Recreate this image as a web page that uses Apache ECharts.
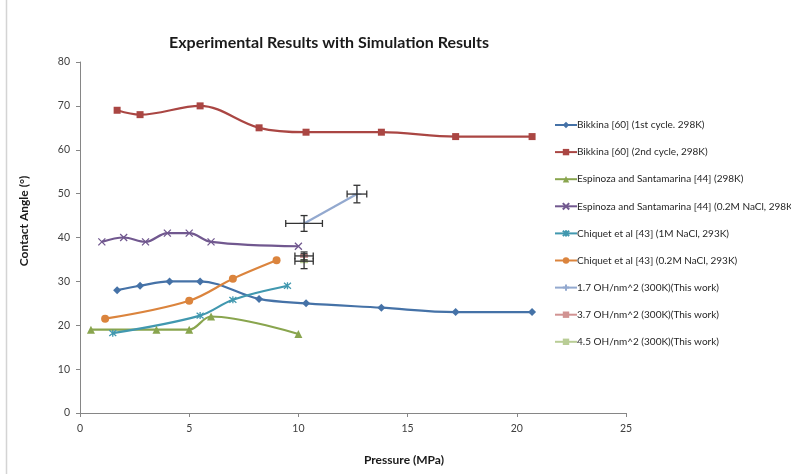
<!DOCTYPE html>
<html>
<head>
<meta charset="utf-8">
<script src="https://cdn.jsdelivr.net/npm/echarts@6/dist/echarts.min.js"></script>
<style>
html,body{margin:0;padding:0;background:#fff;}
#main{width:791px;height:474px;}
</style>
</head>
<body>
<div id="main"></div>
<script>
// ---- Data ----
const bikkina1 = [[1.7,28],[2.75,29],[4.1,30],[5.5,30],[8.2,26],[10.35,25],[13.8,24],[17.2,23],[20.7,23]];
const bikkina2 = [[1.7,69],[2.75,68],[5.5,70],[8.2,65],[10.35,64],[13.8,64],[17.2,63],[20.7,63]];
const espinoza = [[0.5,19],[3.5,19],[5,19],[6,22],[10,18]];
const espinozaNaCl = [[1,39],[2,40],[3,39],[4,41],[5,41],[6,39],[10,38]];
const chiquet1M = [[1.5,18.2],[5.5,22.2],[7,25.8],[9.5,29]];
const chiquet02M = [[1.15,21.5],[5,25.6],[7,30.6],[9,34.8]];
const sim17 = [[10.26,43.2],[12.68,49.9]];
const sim37 = [[10.26,35.8]];
const sim45 = [[10.26,34.6]];
// error bars: [x, y, xErr, yErr]
const errBars = [[10.26,43.2,0.84,1.8],[12.68,49.9,0.45,2.0],[10.26,35.8,0.42,0.9],[10.26,34.6,0.42,1.7]];
const xTicks = {min:0,max:25,interval:5};
const yTicks = {min:0,max:80,interval:10};
const names = [
 'Bikkina [60] (1st cycle. 298K)',
 'Bikkina [60] (2nd cycle, 298K)',
 'Espinoza and Santamarina [44] (298K)',
 'Espinoza and Santamarina [44] (0.2M NaCl, 298K)',
 'Chiquet et al [43] (1M NaCl, 293K)',
 'Chiquet et al [43] (0.2M NaCl, 293K)',
 '1.7 OH/nm^2 (300K)(This work)',
 '3.7 OH/nm^2 (300K)(This work)',
 '4.5 OH/nm^2 (300K)(This work)'
];
const colors = ['#4572A7','#AA4643','#89A54E','#71588F','#4198AF','#DB843D','#93A9CF','#D19392','#B9CD96'];

const FONT = 'Lato, "Open Sans", sans-serif';
const xPath = 'path://M0,0L10,10M10,0L0,10';
const starPath = 'path://M0,0L10,10M10,0L0,10M5,-1L5,11';
const plusPath = 'path://M5,0L5,10M0,5L10,5';

function lineSeries(i, data, symbol, size, extra) {
  const c = colors[i];
  const isPath = symbol.indexOf('path') === 0;
  return Object.assign({
    name: names[i], type: 'line', data: data, smooth: 0.35,
    symbol: symbol, symbolSize: size,
    lineStyle: {color: c, width: 2.2},
    itemStyle: {color: isPath ? 'rgba(0,0,0,0)' : c, borderColor: c, borderWidth: isPath ? 1.3 : 0},
    emphasis: {disabled: true}, animation: false, z: 3
  }, extra || {});
}

const chart = echarts.init(document.getElementById('main'), null, {renderer:'canvas'});
chart.setOption({
  animation: false,
  title: {
    text: 'Experimental Results with Simulation Results',
    left: 324, top: 30, textAlign: 'center',
    textStyle: {fontFamily: FONT, fontSize: 16, fontWeight: 'bold', color: '#1a1a1a'}
  },
  grid: {left: 80, right: 165, top: 62, bottom: 61},
  xAxis: {
    type: 'value', min: xTicks.min, max: xTicks.max, interval: xTicks.interval,
    axisLine: {lineStyle: {color: '#868686', width: 1}},
    axisTick: {show: true, inside: false, length: 4, lineStyle: {color: '#868686'}},
    axisLabel: {fontFamily: FONT, fontSize: 10.5, color: '#404040', margin: 10},
    splitLine: {show: false}
  },
  yAxis: {
    type: 'value', min: yTicks.min, max: yTicks.max, interval: yTicks.interval,
    axisLine: {show: true, lineStyle: {color: '#868686', width: 1}},
    axisTick: {show: true, inside: false, length: 4, lineStyle: {color: '#868686'}},
    axisLabel: {fontFamily: FONT, fontSize: 10.5, color: '#404040', margin: 10},
    splitLine: {show: false}
  },
  legend: {
    orient: 'vertical', left: 549, top: 115, itemGap: 17.1,
    itemWidth: 22, itemHeight: 8,
    data: names,
    textStyle: {fontFamily: FONT, fontSize: 10, color: '#262626', padding: [0,0,0,-5]},
    selectedMode: false
  },
  graphic: [
    {type: 'line', shape: {x1: 6.5, y1: 0, x2: 6.5, y2: 474}, style: {stroke: '#d4d4d4', lineWidth: 1.5}},
    {type: 'text', x: 24, y: 221, rotation: Math.PI/2,
     style: {text: 'Contact Angle (°)', fontFamily: FONT, fontSize: 12, fontWeight: 'bold', fill: '#1a1a1a', align: 'center', verticalAlign: 'middle'}},
    {type: 'text', x: 404, y: 460,
     style: {text: 'Pressure (MPa)', fontFamily: FONT, fontSize: 12, fontWeight: 'bold', fill: '#1a1a1a', align: 'center', verticalAlign: 'middle'}}
  ],
  series: [
    lineSeries(0, bikkina1, 'diamond', 8),
    lineSeries(1, bikkina2, 'rect', 7),
    lineSeries(2, espinoza, 'triangle', 8),
    lineSeries(3, espinozaNaCl, xPath, 7),
    lineSeries(4, chiquet1M, starPath, 7),
    lineSeries(5, chiquet02M, 'circle', 8),
    lineSeries(6, sim17, plusPath, 9, {smooth: false}),
    lineSeries(7, sim37, 'rect', [8,4], {smooth: false}),
    lineSeries(8, sim45, 'rect', [8,4], {smooth: false}),
    {
      type: 'custom', name: 'errbars', data: errBars, z: 4, silent: true,
      renderItem: function (params, api) {
        const x = api.value(0), y = api.value(1), ex = api.value(2), ey = api.value(3);
        const l = api.coord([x - ex, y]), r = api.coord([x + ex, y]);
        const t = api.coord([x, y + ey]), b = api.coord([x, y - ey]);
        const cap = 3.5;
        const st = {stroke: '#333', lineWidth: 1.3};
        const mk = (x1,y1,x2,y2) => ({type:'line', shape:{x1,y1,x2,y2}, style: st});
        return {type: 'group', children: [
          mk(l[0], l[1], r[0], r[1]),
          mk(l[0], l[1]-cap, l[0], l[1]+cap),
          mk(r[0], r[1]-cap, r[0], r[1]+cap),
          mk(t[0], t[1], b[0], b[1]),
          mk(t[0]-cap, t[1], t[0]+cap, t[1]),
          mk(b[0]-cap, b[1], b[0]+cap, b[1])
        ]};
      }
    }
  ]
});
</script>
</body>
</html>
